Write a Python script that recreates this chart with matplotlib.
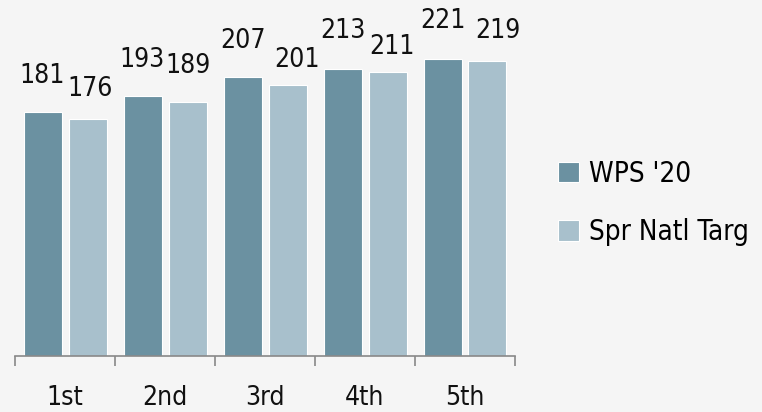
import numpy as np
import matplotlib.pyplot as plt

plt.rcParams["font.family"] = ["DejaVu Sans Condensed", "DejaVu Sans"]
plt.rcParams["font.stretch"] = "condensed"

categories = ["1st", "2nd", "3rd", "4th", "5th"]
wps_20 = [181, 193, 207, 213, 221]
spr_natl_targ = [176, 189, 201, 211, 219]

dark = "#6b91a1"
light = "#a8c0cc"
bg = "#f5f5f5"
fs = 19

# label nudges in pixels (dx, gap above bar) to mimic the original's label placement
dark_nudge = [(0, 29), (0, 29), (0, 29), (0, 31), (0, 30)]
light_nudge = [(3, 23), (0, 29), (10, 18), (4, 18), (10, 23)]

fig = plt.figure(figsize=(7.62, 4.12), dpi=100, facecolor=bg)
ax = fig.add_axes([15/762, 1 - 356/412, 500/762, 350/412])
ax.set_facecolor(bg)

x = np.arange(len(categories))
w = 0.38
b1 = ax.bar(x - 0.225, wps_20, w, color=dark, edgecolor="white", linewidth=0.8, label="WPS '20")
b2 = ax.bar(x + 0.225, spr_natl_targ, w, color=light, edgecolor="white", linewidth=0.8, label="Spr Natl Targ")

for bars, vals, nudges in [(b1, wps_20, dark_nudge), (b2, spr_natl_targ, light_nudge)]:
    for r, v, off in zip(bars, vals, nudges):
        ax.annotate(str(v), (r.get_x() + r.get_width()/2, r.get_height()),
                    xytext=off, textcoords="offset pixels",
                    ha="center", va="baseline", fontsize=fs, color="#111111")

ax.set_xlim(-0.5, len(categories) - 0.5)
ax.set_ylim(0, 260)
ax.set_yticks([])
for s in ["top", "right", "left"]:
    ax.spines[s].set_visible(False)
ax.spines["bottom"].set_color("#888888")
ax.spines["bottom"].set_linewidth(1.2)

# ticks between categories, labels at centers
ax.set_xticks(np.arange(-0.5, len(categories), 1.0))
ax.set_xticklabels([])
ax.tick_params(axis="x", which="major", length=7, width=1.2, color="#888888")
ax.set_xticks(x, minor=True)
ax.set_xticklabels(categories, minor=True, fontsize=fs, color="#111111")
ax.tick_params(axis="x", which="minor", length=0, pad=21)

fig.legend(handles=[b1, b2], loc="center left", bbox_to_anchor=(533/762, 1 - 203/412),
           frameon=False, fontsize=20, handlelength=0.75, handleheight=0.75,
           handletextpad=0.35, labelspacing=1.1)

plt.savefig("out.png", dpi=100, facecolor=bg)
